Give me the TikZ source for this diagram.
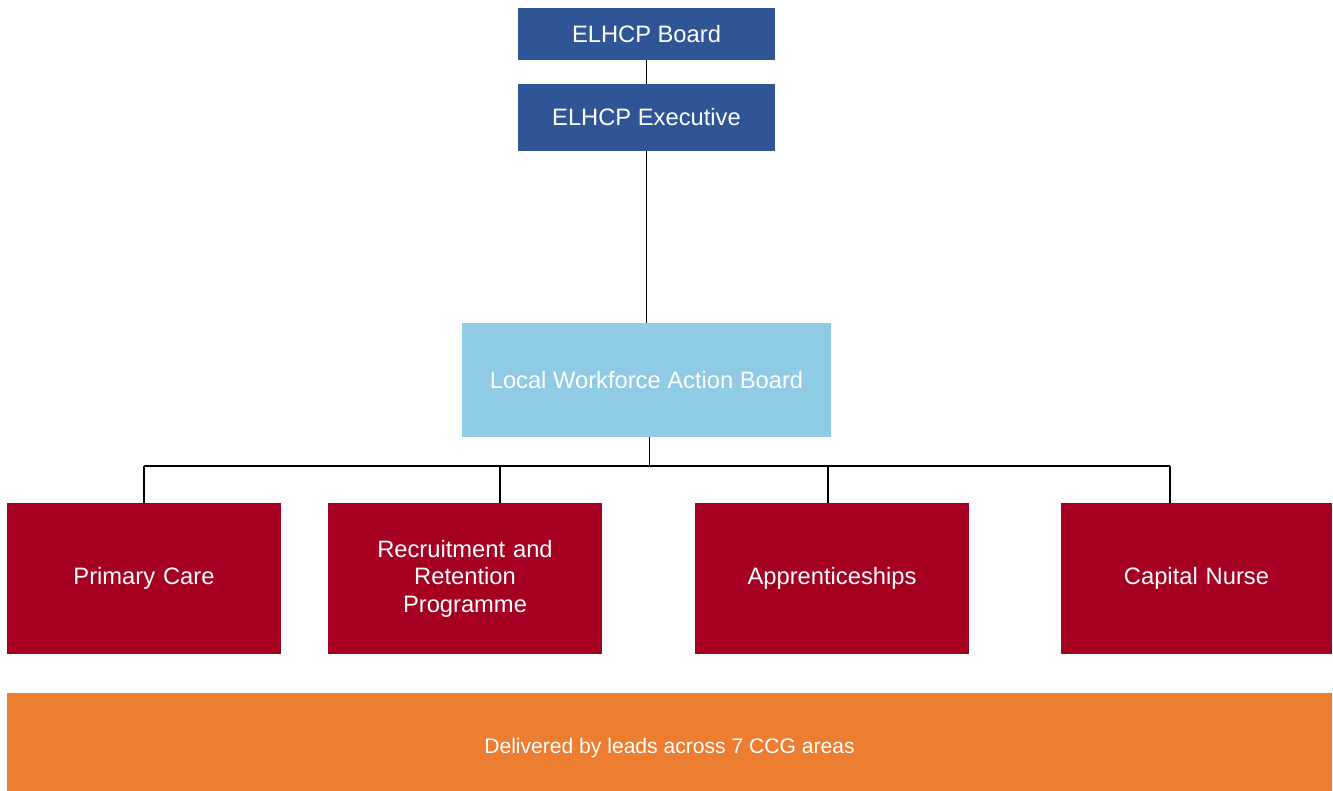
\documentclass[tikz,border=0pt]{standalone}
\usepackage{fontspec}
\setmainfont{Liberation Sans}
\definecolor{elblue}{RGB}{47,85,151}
\definecolor{lwblue}{RGB}{143,203,228}
\definecolor{wsred}{RGB}{165,0,33}
\definecolor{ccgorange}{RGB}{237,125,49}
\tikzset{
  box/.style={inner sep=2pt,text=white,font=\fontsize{13.5}{15.6}\selectfont,align=center},
  topbox/.style={box,fill=elblue,minimum width=5.14cm},
  wsbox/.style={box,fill=wsred,minimum width=5.48cm,minimum height=3.02cm,text width=5cm},
  link/.style={line width=0.6pt}
}
\begin{document}
\begin{tikzpicture}
    \useasboundingbox (0,0) rectangle (26.66,-15.82);
    \node[topbox,minimum height=1.04cm] (board) at (12.93,-0.68) {ELHCP Board};
    \node[topbox,minimum height=1.34cm] (exec) at (12.93,-2.35) {ELHCP Executive};
    \node[box,fill=lwblue,minimum width=7.38cm,minimum height=2.28cm] (lwab) at (12.93,-7.6) {Local Workforce Action Board};
    \node[wsbox] (pc) at (2.88,-11.57) {Primary Care};
    \node[wsbox] (rr) at (9.30,-11.57) {Recruitment and\\Retention\\Programme};
    \node[wsbox] (ap) at (16.64,-11.57) {Apprenticeships};
    \node[wsbox,minimum width=5.42cm] (cn) at (23.93,-11.57) {Capital Nurse};
    \node[box,fill=ccgorange,minimum width=26.5cm,minimum height=1.96cm,font=\fontsize{12}{14}\selectfont,text height=13pt,text depth=0pt] (ccg) at (13.39,-14.84) {Delivered by leads across 7 CCG areas};
    \coordinate (bus) at (0,-9.32);
    \draw[link] (board) -- (exec);
    \draw[link] (exec) -- (lwab);
    \draw[link] ([xshift=0.6mm]lwab.south) -- ([xshift=0.6mm]lwab.south |- bus);
    \draw[link] (pc.north |- bus) -- ([xshift=-5.3mm]cn.north |- bus);
    \draw[link] (pc.north) -- (pc.north |- bus);
    \draw[link] ([xshift=7mm]rr.north) -- ([xshift=7mm]rr.north |- bus);
    \draw[link] ([xshift=-0.8mm]ap.north) -- ([xshift=-0.8mm]ap.north |- bus);
    \draw[link] ([xshift=-5.3mm]cn.north) -- ([xshift=-5.3mm]cn.north |- bus);
\end{tikzpicture}
\end{document}
